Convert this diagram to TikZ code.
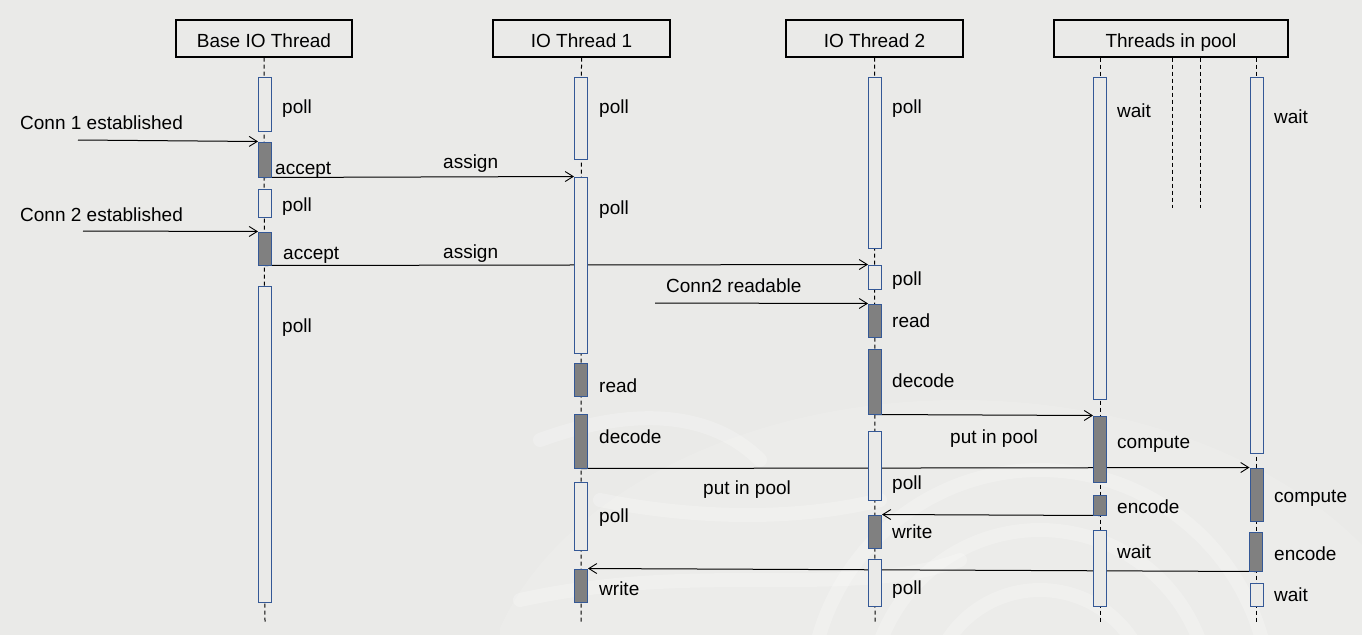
\documentclass[tikz,border=0pt]{standalone}
\usepackage{fontspec}
\setmainfont{Liberation Sans}
\usetikzlibrary{arrows.meta}
\pgfdeclarelayer{back}
\pgfdeclarelayer{bg}
\pgfsetlayers{back,bg,main}
\definecolor{paper}{RGB}{234,234,232}
\definecolor{boxblue}{RGB}{52,88,150}
\definecolor{act}{RGB}{128,128,128}
\newcommand\lblf{\fontsize{19pt}{22pt}\selectfont}
\newcommand\actbox[5]{\node[#5, minimum height={(#4-#3)*1pt}] (#1) at (#2,{(#3+#4)/2}) {};}
\tikzset{
  hdr/.style={draw=black, line width=1.2pt, minimum height=37pt, inner sep=0pt, text height=18pt, text depth=1pt, font=\lblf},
  wbox/.style={draw=boxblue, fill=paper, line width=1pt, minimum width=13pt, inner sep=0pt},
  gbox/.style={wbox, fill=act},
  life/.style={line width=1pt, dash pattern=on 4pt off 3pt},
  msg/.style={line width=1pt, -{Straight Barb[length=8pt,width=10pt,line width=0.9pt]}},
  lbl/.style={anchor=base west, inner sep=0pt, font=\lblf},
  wmark/.style={white, opacity=0.22, line width=14pt, line cap=round},
}
\begin{document}
\begin{tikzpicture}[x=1pt,y=-1pt]
\begin{pgfonlayer}{back}
  \fill[paper] (0,0) rectangle (1362,635);
  \begin{scope}
    \clip (500,380) rectangle (1362,635);
    \fill[white, opacity=0.12] (960,720) ellipse (480 and 320);
    \draw[wmark] (1040,700) circle (230);
    \draw[wmark] (1040,700) circle (170);
    \draw[wmark] (1040,700) circle (110);
    \draw[wmark] (540,440) .. controls (650,400) and (720,420) .. (760,460);
    \draw[wmark] (520,600) .. controls (700,560) and (850,600) .. (960,560);
    \draw[wmark] (600,500) .. controls (700,520) and (800,520) .. (880,500);
  \end{scope}
\end{pgfonlayer}
\useasboundingbox (0,0) rectangle (1362,635);

% headers
\node[hdr, minimum width=176pt] (hb) at (264,38.5) {Base IO Thread};
\node[hdr, minimum width=177pt] (h1) at (581.5,38.5) {IO Thread 1};
\node[hdr, minimum width=177pt] (h2) at (874.5,38.5) {IO Thread 2};
\node[hdr, minimum width=234pt] (hp) at (1171,38.5) {Threads in pool};

% Base IO thread activations
\actbox{b1}{265}{77}{131}{wbox}
\actbox{b2}{265}{142}{177}{gbox}
\actbox{b3}{265}{189}{217}{wbox}
\actbox{b4}{265}{232}{265}{gbox}
\actbox{b5}{265}{286}{602}{wbox}

% IO thread 1
\actbox{a1}{581}{77}{159}{wbox}
\actbox{a2}{581}{177}{353}{wbox}
\actbox{a3}{581}{363}{396}{gbox}
\actbox{a4}{581}{414}{468}{gbox}
\actbox{a5}{581}{482}{550}{wbox}
\actbox{a6}{581}{569}{602}{gbox}

% IO thread 2
\actbox{c1}{875}{77}{248}{wbox}
\actbox{c2}{875}{265}{289}{wbox}
\actbox{c3}{875}{304}{337}{gbox}
\actbox{c4}{875}{349}{414}{gbox}
\actbox{c5}{875}{431}{500}{wbox}
\actbox{c6}{875}{515}{548}{gbox}
\actbox{c7}{875}{559}{606}{wbox}

% pool thread A
\actbox{p1}{1100}{77}{399}{wbox}
\actbox{p2}{1100}{416}{482}{gbox}
\actbox{p3}{1100}{495}{515}{gbox}
\actbox{p4}{1100}{530}{606}{wbox}

% pool thread B
\actbox{q1}{1256.5}{77}{453}{wbox}
\actbox{q2}{1256.5}{468}{521}{gbox}
\actbox{q3}{1256}{532}{571}{gbox}
\actbox{q4}{1256.5}{583}{606}{wbox}

% end coordinates of lifelines
\coordinate (eb) at (265,622);
\coordinate (e1) at (581,622);
\coordinate (e2) at (875,623);
\coordinate (ep) at (1100,623);
\coordinate (eq) at (1256.5,623);
\coordinate (d1) at (1172,208);
\coordinate (d2) at (1200,208);
\coordinate (s1) at (78,140);
\coordinate (s2) at (83,231);
\coordinate (s3) at (655,303);

\begin{pgfonlayer}{bg}
  \draw[life] (hb.south) -- (eb);
  \draw[life] (h1.south) -- (e1);
  \draw[life] (h2.south) -- (e2);
  \draw[life] (hp.south -| ep) -- (ep);
  \draw[life] (hp.south -| eq) -- (eq);
  \draw[life] (hp.south -| d1) -- (d1);
  \draw[life] (hp.south -| d2) -- (d2);
  % messages
  \draw[msg] (s1) -- (b2.north west);
  \draw[msg] (s2) -- (b4.north west);
  \draw[msg] (b2.south) -- (a2.north west);
  \draw[msg] (b4.south) -- (c2.north west);
  \draw[msg] (s3) -- (c3.north west);
  \draw[msg] (c4.south) -- (p2.north west);
  \draw[msg] (a4.south) -- (q2.north west);
  \draw[msg] (p3.south) -- (c6.north east);
  \draw[msg] (q3.south) -- (a6.north east);
\end{pgfonlayer}

% labels
\node[lbl] (tc1) at (20,129) {Conn 1 established};
\node[lbl] (tc2) at (20,221) {Conn 2 established};
\node[lbl] (tc3) at (666,292) {Conn2 readable};
\node[lbl] (ta1) at (443,168) {assign};
\node[lbl] (ta2) at (443,258) {assign};
\node[lbl] (tpp1) at (950,443) {put in pool};
\node[lbl] (tpp2) at (703,494) {put in pool};

\node[lbl] (lb1) at (282,113) {poll};
\node[lbl] (lb2) at (275,174) {accept};
\node[lbl] (lb3) at (282,211) {poll};
\node[lbl] (lb4) at (283,259) {accept};
\node[lbl] (lb5) at (282,332) {poll};

\node[lbl] (la1) at (599,113) {poll};
\node[lbl] (la2) at (599,214) {poll};
\node[lbl] (la3) at (599,392) {read};
\node[lbl] (la4) at (599,443) {decode};
\node[lbl] (la5) at (599,522) {poll};
\node[lbl] (la6) at (599,595) {write};

\node[lbl] (lc1) at (892,113) {poll};
\node[lbl] (lc2) at (892,285) {poll};
\node[lbl] (lc3) at (892,327) {read};
\node[lbl] (lc4) at (892,387) {decode};
\node[lbl] (lc5) at (892,489) {poll};
\node[lbl] (lc6) at (892,538) {write};
\node[lbl] (lc7) at (892,594) {poll};

\node[lbl] (lp1) at (1117,117) {wait};
\node[lbl] (lp2) at (1117,448) {compute};
\node[lbl] (lp3) at (1117,513) {encode};
\node[lbl] (lp4) at (1117,558) {wait};

\node[lbl] (lq1) at (1274,123) {wait};
\node[lbl] (lq2) at (1274,502) {compute};
\node[lbl] (lq3) at (1274,560) {encode};
\node[lbl] (lq4) at (1274,601) {wait};
\end{tikzpicture}
\end{document}
